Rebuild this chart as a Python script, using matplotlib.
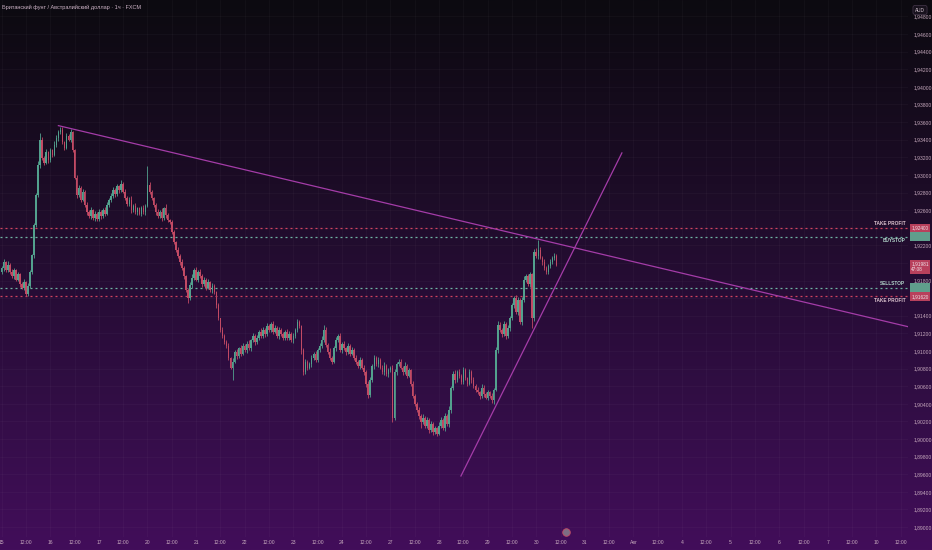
import numpy as np
import matplotlib
matplotlib.use("Agg")
import matplotlib.pyplot as plt
from matplotlib.colors import LinearSegmentedColormap

plt.rcParams["font.family"] = ["Liberation Sans Narrow", "Liberation Sans", "DejaVu Sans"]

# ---- data: GBP/AUD 1h candles (closes) ----
first_open = 1.9190
closes = [
    1.9194, 1.9201, 1.9192, 1.9198, 1.9190, 1.9185, 1.9192, 1.9181, 1.9187, 1.9176, 1.9172, 1.9178, 1.9165, 1.9174, 1.9190, 1.9209, 1.9243, 1.9277, 1.9311, 1.9340, 1.9319, 1.9314, 1.9326, 1.9317, 1.9328,
    1.9323, 1.9334, 1.9342, 1.9349, 1.9351, 1.9337, 1.9331, 1.9344, 1.9340, 1.9349, 1.9328, 1.9297, 1.9277, 1.9285, 1.9272, 1.9281, 1.9266, 1.9258, 1.9253, 1.9260, 1.9251, 1.9256, 1.9250, 1.9258, 1.9253,
    1.9260, 1.9256, 1.9266, 1.9272, 1.9276, 1.9283, 1.9278, 1.9287, 1.9283, 1.9290, 1.9281, 1.9274, 1.9267, 1.9272, 1.9260, 1.9265, 1.9258, 1.9262, 1.9256, 1.9262, 1.9258, 1.9265, 1.9289, 1.9281, 1.9274,
    1.9266, 1.9258, 1.9253, 1.9258, 1.9251, 1.9262, 1.9254, 1.9249, 1.9247, 1.9235, 1.9224, 1.9215, 1.9208, 1.9201, 1.9194, 1.9185, 1.9169, 1.9160, 1.9175, 1.9183, 1.9192, 1.9181, 1.9190, 1.9185, 1.9176,
    1.9181, 1.9172, 1.9178, 1.9169, 1.9174, 1.9167, 1.9152, 1.9137, 1.9124, 1.9117, 1.9110, 1.9106, 1.9092, 1.9081, 1.9088, 1.9099, 1.9094, 1.9103, 1.9097, 1.9106, 1.9101, 1.9108, 1.9103, 1.9112, 1.9117,
    1.9110, 1.9115, 1.9122, 1.9117, 1.9124, 1.9119, 1.9128, 1.9124, 1.9131, 1.9122, 1.9126, 1.9117, 1.9124, 1.9119, 1.9115, 1.9122, 1.9115, 1.9119, 1.9112, 1.9117, 1.9124, 1.9133, 1.9128, 1.9101, 1.9076,
    1.9088, 1.9081, 1.9085, 1.9092, 1.9097, 1.9090, 1.9101, 1.9106, 1.9112, 1.9124, 1.9107, 1.9099, 1.9092, 1.9088, 1.9103, 1.9112, 1.9117, 1.9101, 1.9108, 1.9103, 1.9099, 1.9106, 1.9097, 1.9101, 1.9092,
    1.9088, 1.9083, 1.9090, 1.9081, 1.9076, 1.9063, 1.9050, 1.9067, 1.9083, 1.9092, 1.9085, 1.9090, 1.9081, 1.9076, 1.9083, 1.9074, 1.9078, 1.9081, 1.9024, 1.9076, 1.9085, 1.9088, 1.9081, 1.9076, 1.9083,
    1.9072, 1.9078, 1.9063, 1.9049, 1.9040, 1.9033, 1.9026, 1.9019, 1.9024, 1.9015, 1.9022, 1.9010, 1.9017, 1.9008, 1.9012, 1.9006, 1.9015, 1.9022, 1.9012, 1.9026, 1.9017, 1.9033, 1.9058, 1.9074, 1.9067,
    1.9076, 1.9072, 1.9065, 1.9078, 1.9069, 1.9063, 1.9076, 1.9067, 1.9060, 1.9056, 1.9053, 1.9049, 1.9058, 1.9051, 1.9047, 1.9053, 1.9049, 1.9044, 1.9056, 1.9101, 1.9130, 1.9124, 1.9119, 1.9131, 1.9117,
    1.9126, 1.9137, 1.9152, 1.9160, 1.9144, 1.9158, 1.9133, 1.9158, 1.9181, 1.9185, 1.9176, 1.9187, 1.9137, 1.9213, 1.9208, 1.9215, 1.9206, 1.9201, 1.9194, 1.9190, 1.9197, 1.9201, 1.9206, 1.9208, 1.9198,
]
# wick lengths beyond the body, in pips
up_wick_pips = [
    2, 3, 1, 4, 2, 3, 2, 1, 3, 2, 2, 4, 1, 3, 2, 1, 2, 3, 5, 8, 3, 2, 4, 1, 3,
    2, 4, 3, 2, 4, 3, 2, 4, 2, 3, 1, 2, 3, 4, 2, 3, 2, 3, 2, 4, 1, 3, 2, 3, 2,
    2, 4, 3, 2, 4, 3, 2, 3, 1, 4, 2, 3, 2, 3, 4, 2, 3, 1, 2, 3, 4, 2, 21, 3, 2,
    1, 2, 3, 2, 4, 2, 5, 3, 1, 2, 2, 1, 3, 2, 3, 2, 1, 2, 3, 4, 2, 3, 2, 3, 2,
    3, 2, 4, 2, 3, 2, 1, 2, 1, 3, 2, 2, 3, 1, 4, 2, 3, 2, 4, 3, 2, 3, 4, 2, 3,
    2, 3, 2, 4, 3, 2, 4, 3, 2, 3, 4, 2, 3, 2, 3, 2, 3, 4, 2, 3, 2, 3, 2, 1, 2,
    3, 2, 3, 4, 2, 3, 2, 3, 5, 6, 3, 2, 4, 2, 3, 4, 2, 3, 2, 3, 2, 3, 2, 3, 2,
    3, 2, 3, 2, 3, 2, 3, 4, 2, 3, 2, 3, 2, 3, 4, 2, 3, 2, 3, 4, 2, 3, 3, 2, 4,
    2, 3, 2, 3, 2, 2, 3, 2, 4, 2, 3, 2, 3, 2, 3, 2, 4, 3, 2, 3, 2, 4, 2, 3, 4,
    2, 3, 2, 4, 3, 2, 3, 2, 3, 2, 3, 2, 4, 3, 2, 3, 2, 3, 2, 3, 4, 3, 2, 3, 2,
    4, 3, 3, 2, 4, 3, 2, 3, 4, 3, 2, 3, 2, 3, 4, 11, 3, 2, 4, 3, 2, 3, 2, 3, 2,
]
down_wick_pips = [
    2, 3, 2, 2, 3, 2, 3, 2, 2, 3, 2, 3, 2, 3, 2, 2, 3, 2, 2, 3, 2, 3, 2, 3, 2,
    3, 2, 2, 3, 2, 2, 3, 2, 2, 3, 2, 2, 3, 2, 3, 2, 2, 3, 2, 3, 2, 3, 2, 2, 3,
    2, 3, 2, 2, 3, 2, 3, 2, 3, 2, 2, 3, 2, 2, 3, 2, 2, 3, 2, 3, 2, 3, 2, 3, 2,
    2, 3, 2, 2, 3, 2, 3, 2, 3, 2, 2, 3, 2, 3, 2, 3, 2, 5, 2, 3, 2, 2, 3, 2, 3,
    2, 3, 2, 2, 3, 2, 3, 2, 3, 2, 2, 3, 2, 2, 14, 2, 3, 2, 3, 2, 2, 3, 2, 3, 2,
    3, 2, 3, 2, 2, 3, 2, 3, 2, 3, 2, 2, 3, 2, 3, 2, 3, 2, 2, 3, 2, 3, 2, 4, 3,
    2, 3, 2, 3, 2, 2, 3, 2, 3, 2, 3, 2, 2, 3, 2, 3, 2, 2, 3, 2, 3, 2, 3, 2, 2,
    3, 2, 3, 2, 3, 4, 3, 2, 2, 3, 2, 3, 2, 2, 3, 2, 3, 2, 5, 2, 3, 2, 2, 3, 2,
    3, 2, 3, 2, 3, 2, 3, 6, 2, 3, 2, 3, 2, 4, 2, 3, 2, 3, 2, 3, 2, 3, 3, 2, 3,
    2, 3, 2, 3, 2, 3, 2, 3, 2, 3, 2, 3, 2, 3, 2, 3, 2, 3, 4, 2, 3, 2, 3, 2, 3,
    2, 3, 2, 3, 2, 3, 2, 3, 2, 3, 2, 3, 11, 3, 2, 3, 2, 3, 2, 3, 2, 3, 2, 3, 2,
]
assert len(closes) == len(up_wick_pips) == len(down_wick_pips)

day_labels = ["15", "16", "17", "20", "21", "22", "23", "24", "27", "28",
              "29", "30", "31", "Авг", "4", "5", "6", "7", "10"]
bars_per_day = 24

take_profit_top = 1.9240
buy_stop = 1.9230
sell_stop = 1.9172
take_profit_bottom = 1.9162
last_price_text = "1,91981"
countdown_text = "47:08"

# trend lines: (bar index, price) anchors
down_trend_x = [28, 265]
down_trend_y = [1.9356, 1.9227]
up_trend_x = [226.8, 306.3]
up_trend_y = [1.8958, 1.9325]

title = "Британский фунт / Австралийский доллар · 1ч · FXCM"

# ---- colours ----
UP = "#53a18e"
DOWN = "#c24a64"
TXT = "#c6a9bd"
LINE = "#a43ca8"
RED_DOT = "#d0435f"
GREEN_DOT = "#6fb5a3"

closes = np.array(closes)
opens = np.concatenate([[first_open], closes[:-1]])
highs = np.maximum(opens, closes) + np.array(up_wick_pips) * 1e-4
lows = np.minimum(opens, closes) - np.array(down_wick_pips) * 1e-4
idx = np.arange(len(closes))
colors = np.where(closes >= opens, UP, DOWN)

fig = plt.figure(figsize=(9.32, 5.5), dpi=100)

# background gradient over the whole figure
bg = fig.add_axes([0, 0, 1, 1], zorder=-10)
cmap = LinearSegmentedColormap.from_list("tv", ["#0c0a10", "#1c0c26", "#2e0d40", "#420e5a"])
bg.imshow(np.linspace(0, 1, 256).reshape(-1, 1), aspect="auto", cmap=cmap,
          extent=[0, 1, 0, 1], origin="upper")
bg.axis("off")

ax = fig.add_axes([0, 13 / 550, 908 / 932, 537 / 550])
ax.set_facecolor("none")
for s in ax.spines.values():
    s.set_visible(False)

ax.set_xlim(-0.84, 447.6)
ax.set_ylim(1.88887, 1.94987)

# grid
xt = np.arange(0, len(day_labels) * bars_per_day, bars_per_day // 2)
xl = []
for d in day_labels:
    xl += [d, "12:00"]
ax.set_xticks(xt)
ax.set_xticklabels(xl)
yt = np.round(np.arange(1.890, 1.9481, 0.002), 3)
ax.set_yticks(yt)
hidden = {1.924, 1.920, 1.916}
ax.set_yticklabels(["" if v in hidden else f"{v:.5f}".replace(".", ",") for v in yt])
ax.yaxis.tick_right()
ax.tick_params(axis="both", length=0, labelsize=3.6, colors=TXT)
ax.tick_params(axis="y", pad=4)
ax.tick_params(axis="x", pad=2.5)
ax.grid(True, color="#ffffff", alpha=0.03, linewidth=0.6)
ax.set_axisbelow(True)

# candles
ax.vlines(idx, lows, highs, colors=colors, linewidth=0.6, zorder=3)
body = np.maximum(np.abs(closes - opens), 0.00005)
ax.bar(idx, body, bottom=np.minimum(opens, closes), width=0.75, color=colors,
       linewidth=0, zorder=4)

# order levels
dots = (0, (1.6, 2.4))
ax.axhline(take_profit_top, color=RED_DOT, linestyle=dots, linewidth=0.9, zorder=2)
ax.axhline(buy_stop, color=GREEN_DOT, linestyle=dots, linewidth=0.9, zorder=2)
ax.axhline(sell_stop, color=GREEN_DOT, linestyle=dots, linewidth=0.9, zorder=2)
ax.axhline(take_profit_bottom, color=RED_DOT, linestyle=dots, linewidth=0.9, zorder=2)

ytr = ax.get_yaxis_transform()
lab = dict(transform=ytr, ha="right", fontsize=3.4, fontweight="bold", zorder=6)
ax.text(0.997, take_profit_top + 0.00022, "TAKE PROFIT", va="bottom", color="#dcc3cf", **lab)
ax.text(0.997, buy_stop - 0.00022, "BUYSTOP", va="top", color="#b3d6cb", **lab)
ax.text(0.997, sell_stop + 0.00022, "SELLSTOP", va="bottom", color="#b3d6cb", **lab)
ax.text(0.997, take_profit_bottom - 0.00022, "TAKE PROFIT", va="top", color="#dcc3cf", **lab)

# price-scale boxes
box = dict(transform=ytr, ha="left", va="center", fontsize=3.4, color="#f0e4ea",
           clip_on=False, zorder=7)
ax.text(1.0035, take_profit_top, "1,92400",
        bbox=dict(boxstyle="square,pad=0.35", fc="#b8405c", ec="none"), **box)
ax.text(1.0035, buy_stop, "1,92300",
        bbox=dict(boxstyle="square,pad=0.35", fc="#5f9e8c", ec="none"),
        **{**box, "color": "#5f9e8c"})
ax.text(1.0035, closes[-1] - 0.00025, last_price_text + "\n" + countdown_text,
        linespacing=1.1, bbox=dict(boxstyle="square,pad=0.35", fc="#b8405c", ec="none"), **box)
ax.text(1.0035, sell_stop, "1,91720",
        bbox=dict(boxstyle="square,pad=0.35", fc="#5f9e8c", ec="none"),
        **{**box, "color": "#5f9e8c"})
ax.text(1.0035, take_profit_bottom, "1,91620",
        bbox=dict(boxstyle="square,pad=0.35", fc="#b8405c", ec="none"), **box)

# trend lines
slope = (down_trend_y[1] - down_trend_y[0]) / (down_trend_x[1] - down_trend_x[0])
x_end = 447.6
ax.plot([down_trend_x[0], x_end],
        [down_trend_y[0], down_trend_y[0] + slope * (x_end - down_trend_x[0])],
        color=LINE, linewidth=0.9, zorder=5)
ax.plot(up_trend_x, up_trend_y, color=LINE, linewidth=0.9, zorder=5)

# small marker near the time axis
ax.scatter([566 / 908], [5 / 537], transform=ax.transAxes, s=30, facecolor="#7d6e84",
           edgecolor=DOWN, linewidth=0.6, zorder=8, clip_on=False)

# title and currency box
fig.text(2 / 932, 1 - 7 / 550, title, fontsize=4.0, color="#cdb3c6", va="center", ha="left")
fig.text(920 / 932, 1 - 10 / 550, "AUD", fontsize=3.4, color="#d8c8d4", ha="center", va="center",
         bbox=dict(boxstyle="round,pad=0.45", fc="#18121d", ec="#46384c", lw=0.5))

fig.savefig("out.png", dpi=100)
